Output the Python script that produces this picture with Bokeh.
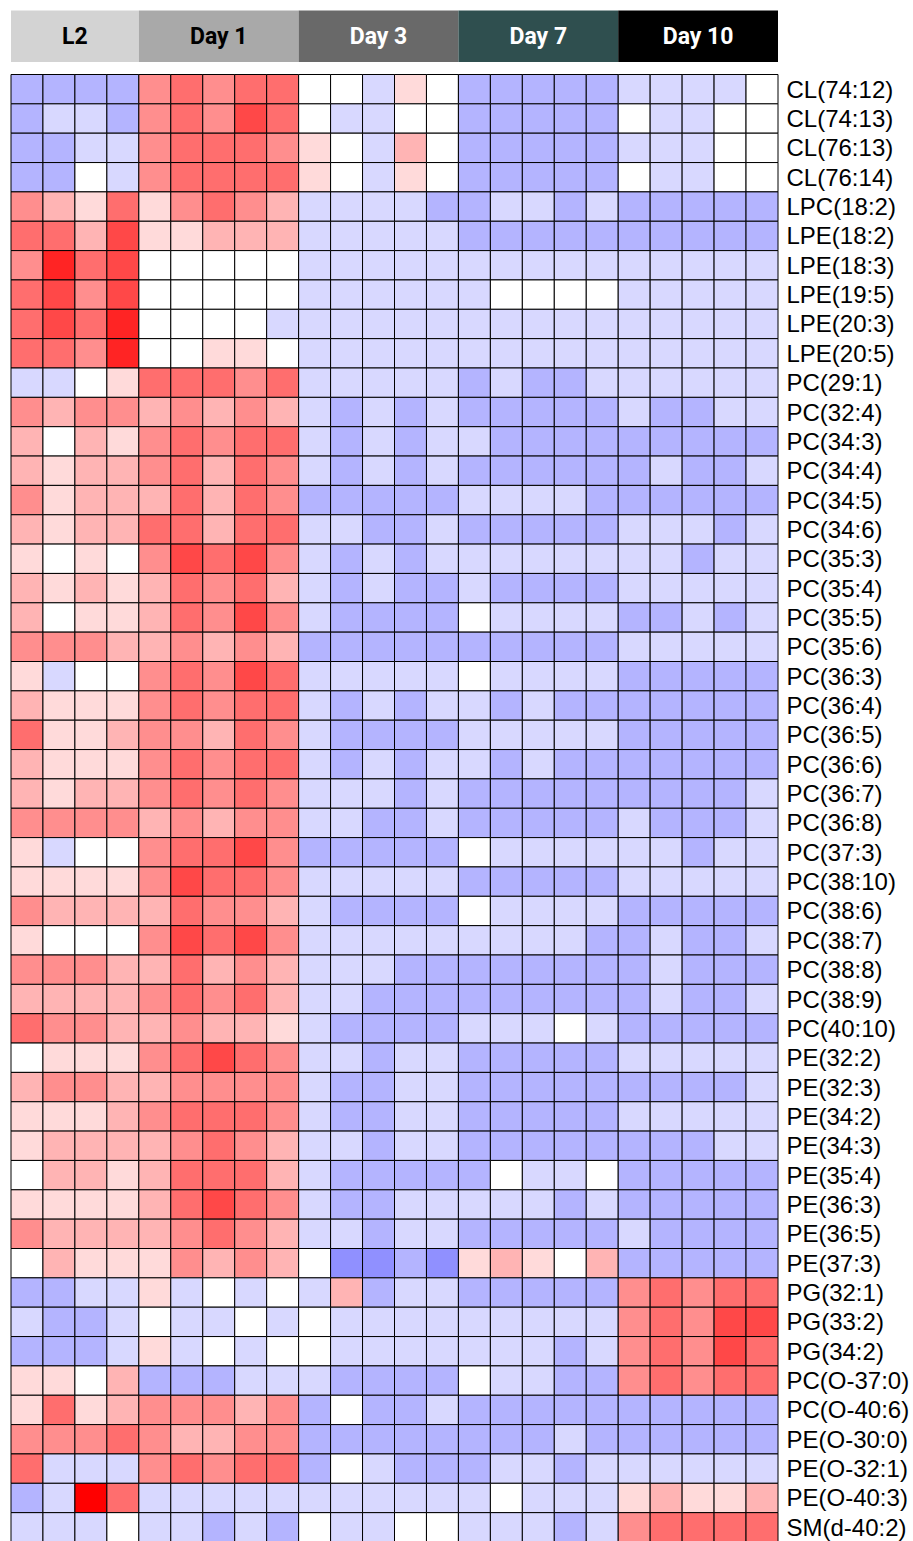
from bokeh.plotting import figure
from bokeh.models import Range1d, ColumnDataSource, LinearColorMapper
from bokeh.transform import transform
from bokeh.core.properties import value
from bokeh.embed import file_html
from bokeh.resources import INLINE

# ---------------- data ----------------
groups = ["L2", "Day 1", "Day 3", "Day 7", "Day 10"]
group_sizes = [4, 5, 5, 5, 5]
group_colors = ["#D3D3D3", "#A9A9A9", "#696969", "#2F4F4F", "#000000"]
group_text_colors = ["#000000", "#000000", "#FFFFFF", "#FFFFFF", "#FFFFFF"]

lipids = ["CL(74:12)", "CL(74:13)", "CL(76:13)", "CL(76:14)", "LPC(18:2)", "LPE(18:2)",
          "LPE(18:3)", "LPE(19:5)", "LPE(20:3)", "LPE(20:5)", "PC(29:1)", "PC(32:4)",
          "PC(34:3)", "PC(34:4)", "PC(34:5)", "PC(34:6)", "PC(35:3)", "PC(35:4)",
          "PC(35:5)", "PC(35:6)", "PC(36:3)", "PC(36:4)", "PC(36:5)", "PC(36:6)",
          "PC(36:7)", "PC(36:8)", "PC(37:3)", "PC(38:10)", "PC(38:6)", "PC(38:7)",
          "PC(38:8)", "PC(38:9)", "PC(40:10)", "PE(32:2)", "PE(32:3)", "PE(34:2)",
          "PE(34:3)", "PE(35:4)", "PE(36:3)", "PE(36:5)", "PE(37:3)", "PG(32:1)",
          "PG(33:2)", "PG(34:2)", "PC(O-37:0)", "PC(O-40:6)", "PE(O-30:0)",
          "PE(O-32:1)", "PE(O-40:3)", "SM(d-40:2)"]

# z-score levels (-3 .. 7), per row: L2(4) | Day1(5) | Day3(5) | Day7(5) | Day10(5)
values = [
    [-2,-2,-2,-2,  3,4,3,4,4,  0,0,-1,1,0,  -2,-2,-2,-2,-2,  -1,-1,-1,-1,0],
    [-2,-1,-1,-2,  3,4,3,5,4,  0,-1,-1,0,0,  -2,-2,-2,-2,-2,  0,-1,-1,0,0],
    [-2,-2,-1,-1,  3,4,4,4,3,  1,0,-1,2,0,  -2,-2,-2,-2,-2,  -1,-1,-1,0,0],
    [-2,-2,0,-1,  3,4,4,4,4,  1,0,-1,1,0,  -2,-2,-2,-2,-2,  0,-1,-1,0,0],
    [3,2,1,4,  1,3,4,3,2,  -1,-1,-1,-1,-2,  -2,-1,-1,-2,-1,  -2,-2,-2,-2,-2],
    [4,4,2,5,  1,1,2,2,2,  -1,-1,-1,-1,-1,  -2,-2,-2,-2,-2,  -2,-2,-2,-2,-2],
    [3,6,4,5,  0,0,0,0,0,  -1,-1,-1,-1,-1,  -1,-1,-1,-1,-1,  -1,-1,-1,-1,-1],
    [4,5,3,5,  0,0,0,0,0,  -1,-1,-1,-1,-1,  -1,0,0,0,0,  -1,-1,-1,-1,-1],
    [4,5,4,6,  0,0,0,0,-1,  -1,-1,-1,-1,-1,  -1,-1,-1,-1,-1,  -1,-1,-1,-1,-1],
    [4,4,3,6,  0,0,1,1,0,  -1,-1,-1,-1,-1,  -1,-1,-1,-1,-1,  -1,-1,-1,-1,-1],
    [-1,-1,0,1,  4,4,4,3,4,  -1,-1,-1,-1,-1,  -2,-1,-2,-2,-1,  -1,-1,-1,-1,-1],
    [3,2,3,3,  2,3,2,3,2,  -1,-2,-1,-2,-1,  -2,-2,-2,-2,-2,  -1,-2,-2,-1,-1],
    [2,0,2,1,  3,4,3,4,4,  -1,-2,-1,-2,-1,  -1,-2,-2,-2,-2,  -2,-2,-2,-2,-2],
    [2,1,2,2,  3,4,2,4,3,  -1,-2,-1,-2,-1,  -2,-2,-2,-2,-2,  -2,-1,-2,-2,-1],
    [3,1,2,2,  2,4,2,4,3,  -2,-2,-2,-2,-2,  -1,-1,-1,-1,-2,  -2,-2,-2,-2,-2],
    [2,1,2,2,  4,4,2,4,4,  -1,-1,-2,-2,-1,  -2,-2,-2,-2,-2,  -1,-1,-1,-2,-1],
    [1,0,1,0,  3,5,4,5,3,  -1,-2,-1,-2,-1,  -1,-1,-1,-1,-1,  -1,-1,-2,-1,-1],
    [2,1,2,1,  2,4,3,4,2,  -1,-2,-1,-2,-2,  -1,-2,-2,-2,-2,  -1,-1,-1,-1,-1],
    [2,0,1,1,  2,4,3,5,3,  -1,-2,-2,-2,-2,  0,-1,-1,-1,-1,  -2,-2,-1,-2,-1],
    [3,3,3,2,  2,3,2,3,2,  -2,-2,-2,-2,-2,  -2,-2,-2,-2,-2,  -1,-1,-1,-1,-1],
    [1,-1,0,0,  3,4,3,5,4,  -1,-1,-1,-1,-1,  0,-1,-1,-1,-1,  -2,-2,-2,-2,-2],
    [2,1,1,1,  3,4,3,4,4,  -1,-2,-1,-2,-1,  -1,-2,-1,-2,-2,  -2,-2,-2,-2,-2],
    [4,1,1,2,  3,3,2,4,3,  -1,-2,-2,-2,-2,  -1,-1,-1,-1,-1,  -2,-2,-2,-2,-2],
    [2,1,1,1,  3,4,3,4,4,  -1,-2,-1,-2,-1,  -1,-2,-1,-2,-2,  -2,-2,-2,-2,-2],
    [2,1,2,2,  3,4,3,4,3,  -1,-1,-1,-2,-1,  -2,-2,-2,-2,-2,  -2,-2,-2,-2,-1],
    [3,3,3,3,  2,3,2,3,3,  -1,-1,-2,-2,-1,  -2,-2,-2,-2,-2,  -1,-2,-2,-2,-1],
    [1,-1,0,0,  3,4,4,5,3,  -2,-2,-2,-2,-2,  0,-1,-1,-1,-1,  -1,-1,-2,-1,-1],
    [1,1,1,1,  3,5,4,4,3,  -1,-1,-1,-1,-1,  -2,-2,-2,-2,-2,  -1,-1,-1,-1,-1],
    [3,2,2,2,  2,4,3,3,2,  -1,-2,-2,-2,-2,  0,-1,-1,-1,-1,  -2,-2,-2,-2,-2],
    [1,0,0,0,  3,5,4,5,3,  -1,-1,-1,-1,-1,  -1,-1,-1,-1,-2,  -2,-1,-2,-2,-1],
    [3,3,3,2,  2,4,2,3,2,  -1,-1,-1,-2,-2,  -2,-2,-2,-2,-2,  -2,-1,-2,-2,-2],
    [2,2,2,2,  3,4,3,4,2,  -1,-1,-2,-2,-2,  -2,-2,-2,-2,-2,  -2,-1,-2,-2,-1],
    [4,3,3,2,  2,3,2,2,1,  -1,-2,-2,-2,-2,  -1,-1,-1,0,-1,  -2,-2,-2,-2,-2],
    [0,1,1,1,  3,4,5,4,3,  -1,-1,-2,-1,-1,  -2,-2,-2,-2,-2,  -1,-1,-1,-1,-1],
    [2,3,3,2,  2,3,3,3,3,  -1,-2,-2,-1,-1,  -2,-2,-2,-2,-2,  -2,-2,-2,-2,-1],
    [1,1,1,2,  3,4,4,4,3,  -1,-2,-2,-1,-1,  -2,-2,-2,-2,-2,  -1,-1,-1,-1,-1],
    [1,2,2,2,  2,3,4,3,2,  -1,-1,-2,-1,-1,  -2,-2,-2,-2,-2,  -2,-2,-2,-1,-1],
    [0,2,2,1,  2,4,4,4,2,  -1,-2,-2,-2,-2,  -2,0,-1,-1,0,  -2,-2,-2,-2,-2],
    [1,1,1,1,  2,4,5,4,3,  -1,-2,-2,-1,-1,  -1,-1,-1,-2,-1,  -2,-2,-2,-2,-2],
    [3,2,2,2,  2,3,4,3,2,  -1,-1,-2,-1,-1,  -2,-2,-2,-2,-2,  -1,-2,-2,-2,-2],
    [0,2,1,1,  1,3,2,3,2,  0,-3,-3,-2,-3,  1,2,1,0,2,  -2,-2,-2,-2,-2],
    [-2,-2,-1,-1,  1,-1,0,-1,0,  -1,2,-2,-1,-1,  -2,-2,-2,-2,-2,  3,4,3,4,4],
    [-1,-2,-2,-1,  0,-1,-1,0,-1,  0,-1,-1,-1,-1,  -1,-1,-1,-1,-1,  3,4,3,5,5],
    [-2,-2,-2,-1,  1,-1,0,-1,0,  0,-1,-1,-1,-1,  -1,-1,-1,-2,-1,  3,4,3,5,4],
    [1,1,0,2,  -2,-2,-2,-1,-1,  -1,-2,-2,-2,-2,  0,-1,-1,-2,-2,  3,4,3,4,4],
    [1,4,1,2,  3,3,3,2,3,  -2,0,-2,-2,-1,  -2,-2,-2,-2,-2,  -2,-2,-2,-2,-2],
    [3,3,3,4,  3,2,2,3,3,  -2,-2,-2,-2,-2,  -2,-2,-2,-1,-2,  -2,-2,-2,-2,-2],
    [4,-1,-1,-1,  3,4,3,4,4,  -2,0,-1,-2,-2,  -2,-1,-1,-2,-1,  -1,-1,-1,-1,-1],
    [-2,-1,7,4,  -1,-1,-1,-1,-1,  -1,-1,-1,-1,-1,  -1,0,-1,-1,-1,  1,2,1,1,2],
    [-1,-1,-1,0,  -1,-1,-2,-1,-2,  0,-1,-1,0,0,  -1,-1,-1,-2,-1,  3,4,4,4,4],
]

# ---------------- styles / layout ----------------
palette = ["#9090FF", "#B4B4FF", "#D8D8FF", "#FFFFFF", "#FFDADA", "#FFB4B4",
           "#FF8E8E", "#FF6E6E", "#FF4848", "#FF2424", "#FF0000"]
W, H = 913, 1541
CW = 767.0 / 24      # px per column
RH = 29.35           # px per row
X0 = 10.5            # canvas x of heatmap left
Y0 = 74.0            # canvas y of heatmap top
HDR_TOP, HDR_BOT = 10.0, 61.5

ncol = sum(group_sizes)
nrow = len(lipids)

xs, ys, zs = [], [], []
for r, row in enumerate(values):
    for c, v in enumerate(row):
        xs.append(c + 0.5)
        ys.append(r + 0.5)
        zs.append(v)
src = ColumnDataSource(dict(x=xs, y=ys, z=zs))

x_start = -X0 / CW
x_end = x_start + W / CW
y_end = -Y0 / RH
y_start = y_end + H / RH

p = figure(width=W, height=H, output_backend="svg", toolbar_location=None,
           x_range=Range1d(x_start, x_end), y_range=Range1d(y_start, y_end),
           min_border=0, x_axis_location=None, y_axis_location=None,
           outline_line_color=None, background_fill_color="white")
p.grid.visible = False

mapper = LinearColorMapper(palette=palette, low=-3.5, high=7.5)
p.rect(x="x", y="y", width=1, height=1, source=src,
       fill_color=transform("z", mapper), line_color="#000000", line_width=1)

# header group bars
lefts, rights, mids = [], [], []
acc = 0
for s in group_sizes:
    lefts.append(acc)
    rights.append(acc + s)
    mids.append(acc + s / 2)
    acc += s
htop = (HDR_TOP - Y0) / RH
hbot = (HDR_BOT - Y0) / RH
hsrc = ColumnDataSource(dict(left=lefts, right=rights, mid=mids, name=groups,
                             fill=group_colors, tc=group_text_colors,
                             top=[htop] * len(groups), bottom=[hbot] * len(groups),
                             ym=[(htop + hbot) / 2] * len(groups)))
p.quad(left="left", right="right", top="top", bottom="bottom", source=hsrc,
       fill_color="fill", line_color=None)
p.text(x="mid", y="ym", text="name", source=hsrc, text_color="tc",
       text_align="center", text_baseline="middle",
       text_font=value("Roboto"), text_font_style="bold",
       text_font_size="23px")

# row labels
lsrc = ColumnDataSource(dict(x=[ncol + 8.5 / CW] * nrow,
                             y=[i + 0.5 for i in range(nrow)], t=lipids))
p.text(x="x", y="y", text="t", source=lsrc, text_align="left",
       text_baseline="middle", text_font=value("Liberation Sans"),
       text_font_size="24px", text_color="#000000")

open("out.html", "w").write(file_html(p, INLINE))
